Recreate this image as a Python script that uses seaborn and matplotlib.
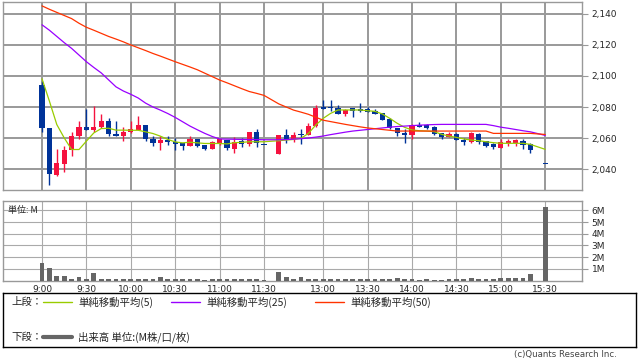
import numpy as np
import pandas as pd
import seaborn as sns
import matplotlib.pyplot as plt
from matplotlib.lines import Line2D

# bar slots (5 minute bars, 31 = lunch gap, 67 = empty before close)
slots = list(range(0, 31)) + list(range(32, 67)) + [68]

opens = [2094, 2066.3, 2036, 2043.1, 2052.4, 2061.6, 2067.4, 2065, 2066.8, 2071.3,
         2062.9, 2061.2, 2063.8, 2065.5, 2068.7, 2059.7, 2056.7, 2058.6, 2057.5, 2056.7,
         2054.8, 2059.1, 2055.4, 2053, 2056.7, 2058.7, 2053.1, 2058.3, 2056.2, 2063.9,
         2055.5,
         2049.5, 2061.9, 2059.1, 2062.2, 2061.7, 2067.7, 2079.8, 2079.5, 2079.1, 2075.5,
         2079.1, 2078.1, 2078.7, 2077.2, 2075.9, 2072.3, 2066.2, 2063.4, 2061.9, 2068.4,
         2068.4, 2067.3, 2063.4, 2060.9, 2062.6, 2058.9, 2057.6, 2062.6, 2057.8, 2056.3,
         2053.8, 2057, 2057, 2057.8, 2056.1,
         2043.2]
highs = [2097, 2066.5, 2053.2, 2055, 2063.8, 2070.7, 2078.4, 2080.5, 2075.8, 2072.8,
         2071.3, 2067.2, 2070.7, 2073.9, 2068.7, 2061.6, 2061.2, 2061.2, 2060.3, 2057,
         2061.6, 2059.7, 2055.4, 2058, 2059.5, 2059, 2060.4, 2059.8, 2064, 2065.8,
         2055.5,
         2062, 2065.6, 2063.9, 2065.6, 2069.9, 2081.3, 2084.5, 2084.5, 2081.3, 2078.5,
         2079.6, 2082.4, 2080.2, 2078.5, 2076.4, 2072.7, 2066.2, 2065.6, 2068.8, 2070.3,
         2069, 2067.7, 2063.4, 2063.9, 2063.4, 2060, 2063.9, 2063.4, 2058, 2057,
         2059.6, 2059.1, 2059.6, 2059.3, 2057,
         2043.2]
lows = [2063.8, 2029.6, 2035.5, 2038.2, 2048.3, 2059.5, 2065, 2064.2, 2066.4, 2061.2,
        2061.2, 2058.2, 2063.5, 2064.9, 2058.2, 2054.8, 2052.2, 2055.2, 2052.6, 2052.2,
        2054.8, 2054, 2052.2, 2053, 2055.2, 2052.3, 2050.1, 2054.4, 2054.8, 2054.4,
        2055.5,
        2049.5, 2056.6, 2057.2, 2055.9, 2061.7, 2067, 2078.5, 2077.6, 2075.5, 2074.2,
        2073.8, 2076.8, 2076.8, 2075.5, 2071.8, 2066, 2061.3, 2056.6, 2059.1, 2066.8,
        2066, 2062, 2059.6, 2060.6, 2058.5, 2055.3, 2057, 2056, 2054.4, 2052.9,
        2053.8, 2054.8, 2054.8, 2053.1, 2050.1,
        2043.2]
closes = [2066.3, 2036.7, 2044.2, 2052.6, 2061.6, 2066.8, 2065, 2066.8, 2071.3, 2062.5,
          2061.2, 2064.2, 2066.1, 2068.1, 2059.1, 2056.7, 2058.6, 2057.3, 2056, 2054.8,
          2059.5, 2054.8, 2053, 2057.3, 2059.1, 2053.4, 2057.2, 2056.2, 2063.9, 2056.6,
          2055.5,
          2061.9, 2059.6, 2062.2, 2061.7, 2067.7, 2079.6, 2078.9, 2079.1, 2075.5, 2078.1,
          2077.6, 2077.6, 2076.8, 2075.5, 2071.8, 2066.2, 2063, 2062.2, 2068.2, 2067.3,
          2066.4, 2062.6, 2060.9, 2062.8, 2058.7, 2057.6, 2063.2, 2057.4, 2055, 2054.4,
          2057.2, 2057.4, 2058.7, 2055.7, 2052.2,
          2043.2]

# volume in millions
volume = [1.46, 1.03, 0.37, 0.37, 0.17, 0.26, 0.17, 0.6, 0.17, 0.17,
          0.17, 0.17, 0.11, 0.17, 0.17, 0.17, 0.26, 0.09, 0.09, 0.09,
          0.17, 0.09, 0.06, 0.09, 0.09, 0.17, 0.17, 0.09, 0.09, 0.17,
          0.02,
          0.69, 0.29, 0.11, 0.26, 0.11, 0.17, 0.09, 0.09, 0.09, 0.09,
          0.09, 0.09, 0.09, 0.09, 0.09, 0.09, 0.2, 0.09, 0.09, 0.06,
          0.09, 0.06, 0.06, 0.09, 0.09, 0.09, 0.2, 0.09, 0.09, 0.09,
          0.2, 0.2, 0.2, 0.2, 0.54,
          6.25]

# moving averages
ma5 = [2098.2, 2083.8, 2068.7, 2060.1, 2052.6, 2052.6, 2058, 2063.3, 2066.1, 2066.3,
       2065.1, 2065.1, 2065, 2065, 2064, 2062.9, 2061.2, 2059.1, 2057.5, 2056.9,
       2057.3, 2056.9, 2056.5, 2056.5, 2056.5, 2056.2, 2057, 2057.2, 2057.6, 2057.6,
       2057.6,
       2058.3, 2058.7, 2059.1, 2059.8, 2063, 2068.4, 2072.7, 2075.9, 2078.1, 2078.1,
       2078.1, 2078.1, 2077.6, 2077.2, 2075.5, 2072.7, 2069.5, 2066.9, 2065.2, 2064.7,
       2064.5, 2064.1, 2062.4, 2061.3, 2060.4, 2059.4, 2058.7, 2058.3, 2057.6, 2057,
       2056.6, 2056.6, 2056.6, 2056.6, 2055.9,
       2052.7]
ma25 = [2133, 2129.5, 2125.5, 2121.5, 2117.8, 2113.5, 2109.2, 2105.5, 2102, 2097.5,
        2093, 2090.3, 2088.2, 2085.8, 2082.5, 2080, 2078, 2075.8, 2073.3, 2070.5,
        2067.7, 2065.3, 2063, 2061, 2059.4, 2059.3, 2059.2, 2059.1, 2059, 2059,
        2058.9,
        2058.9, 2059, 2059.3, 2059.6, 2060, 2060.6, 2061.3, 2062.2, 2063, 2063.8,
        2064.5, 2065, 2065.5, 2066, 2066.5, 2067, 2067.4, 2067.7, 2068, 2068.3,
        2068.5, 2068.7, 2068.8, 2068.8, 2068.8, 2068.8, 2068.8, 2068.8, 2068.8, 2068,
        2067, 2066.3, 2065.5, 2064.7, 2064,
        2061.7]
ma50 = [2145.2, 2143, 2141, 2139, 2137, 2134, 2131.4, 2129.5, 2127.5, 2125.5,
        2123.8, 2122, 2120, 2118.2, 2116.4, 2114.5, 2112.8, 2111, 2109.2, 2107.5,
        2105.8, 2104, 2101.8, 2099.6, 2097.4, 2095.6, 2093.7, 2091.8, 2090, 2088.8,
        2087.5,
        2082, 2080, 2078, 2076.7, 2075.3, 2073.4, 2071.5, 2070.6, 2069.7, 2068.8,
        2068, 2067.2, 2066.5, 2066, 2065.5, 2065, 2064.5, 2064.5, 2064.5, 2064.5,
        2064.5, 2064.5, 2064.5, 2064.5, 2064.5, 2064.5, 2064.5, 2064.5, 2064.5, 2063,
        2063, 2063, 2063, 2063, 2063,
        2062.3]

time_slots = [0, 6, 12, 18, 24, 30, 38, 44, 50, 56, 62, 68]
time_labels = ['9:00', '9:30', '10:00', '10:30', '11:00', '11:30',
               '13:00', '13:30', '14:00', '14:30', '15:00', '15:30']
price_ticks = [2040, 2060, 2080, 2100, 2120, 2140]
vol_ticks = [1, 2, 3, 4, 5, 6]

UP = '#f5123f'
DOWN = '#003399'
GRID = '#999999'
JP = ['Noto Sans CJK JP', 'DejaVu Sans']

sns.set_style('white')
plt.rcParams['font.family'] = ['DejaVu Sans', 'Noto Sans CJK JP']

df = pd.DataFrame({'slot': slots, 'open': opens, 'high': highs, 'low': lows,
                   'close': closes, 'vol': volume,
                   'ma5': ma5, 'ma25': ma25, 'ma50': ma50})

fig = plt.figure(figsize=(6.38, 3.62), dpi=100)
W, H = 638.0, 362.0
ax1 = fig.add_axes([3 / W, 1 - 190 / H, 579 / W, 188 / H])
ax2 = fig.add_axes([3 / W, 1 - 280.5 / H, 579 / W, 79.5 / H])

# --- candles
for _, r in df.iterrows():
    col = UP if r['close'] > r['open'] else DOWN
    ax1.vlines(r['slot'], r['low'], r['high'], color=col, lw=1, zorder=3)
    body = max(abs(r['close'] - r['open']), 0.8)
    ax1.bar(r['slot'], body, bottom=min(r['open'], r['close']), width=0.72,
            color=col, linewidth=0, zorder=4)

# --- moving averages
sns.lineplot(data=df, x='slot', y='ma5', color='#99cc00', linewidth=0.9, ax=ax1, zorder=5)
sns.lineplot(data=df, x='slot', y='ma25', color='#9900ff', linewidth=0.9, ax=ax1, zorder=5)
sns.lineplot(data=df, x='slot', y='ma50', color='#ff3300', linewidth=0.9, ax=ax1, zorder=5)

# --- volume
ax2.bar(df['slot'], df['vol'], width=0.63, color='#666666', linewidth=0, zorder=3)

for ax in (ax1, ax2):
    ax.set_xlim(-5.27, 72.97)
    ax.set_xticks(time_slots)
    ax.set_xlabel('')
    ax.set_ylabel('')
    ax.set_axisbelow(True)
    ax.yaxis.tick_right()
    ax.tick_params(axis='y', length=4, color=GRID, labelsize=6.5, pad=3)
    ax.tick_params(axis='x', length=0, labelsize=6.5, pad=3)
    for sp in ax.spines.values():
        sp.set_color(GRID)
        sp.set_linewidth(1)

ax1.set_ylim(2026.5, 2147.7)
ax1.set_yticks(price_ticks)
ax1.set_yticklabels([f'{v:,}' for v in price_ticks])
ax1.set_xticklabels([])
ax1.grid(True, color=GRID, lw=1.4)

ax2.set_ylim(0, 6.8)
ax2.set_yticks(vol_ticks)
ax2.set_yticklabels([f'{v}M' for v in vol_ticks])
ax2.set_xticklabels(time_labels)
ax2.grid(True, color='#aaaaaa', lw=0.8)
ax2.text(0.008, 0.94, '単位: M', transform=ax2.transAxes, ha='left', va='top',
         fontsize=6.5, family=JP)

# --- legend box
lg = fig.add_axes([3 / W, 1 - 347 / H, 633 / W, 54 / H])
lg.set_xlim(3, 636)
lg.set_ylim(347, 293)
lg.set_xticks([])
lg.set_yticks([])
for sp in lg.spines.values():
    sp.set_color('black')
    sp.set_linewidth(1)

row1, row2 = 302, 337
lg.text(11, row1, '上段：', fontsize=7.5, family=JP, va='center')
lg.text(11, row2, '下段：', fontsize=7.5, family=JP, va='center')
entries = [(43, '#99cc00', '単純移動平均(5)'),
           (171, '#9900ff', '単純移動平均(25)'),
           (315, '#ff3300', '単純移動平均(50)')]
for x0, c, label in entries:
    lg.add_line(Line2D([x0, x0 + 29], [row1, row1], color=c, lw=1))
    lg.text(x0 + 35, row1, label, fontsize=7.5, family=JP, va='center')
lg.add_line(Line2D([43, 72], [row2, row2], color='#666666', lw=3))
lg.text(78, row2, '出来高 単位:(M株/口/枚)', fontsize=7.5, family=JP, va='center')

fig.text(617 / W, 1 - 355 / H, '(c)Quants Research Inc.', ha='right', va='center',
         fontsize=6.2, color='#444444')

fig.savefig('out.png', dpi=100)
